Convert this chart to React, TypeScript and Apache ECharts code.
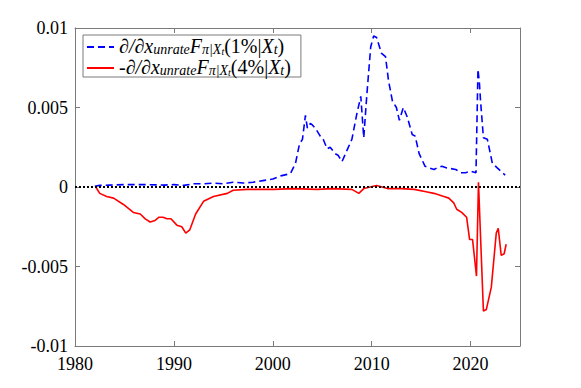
import React, { useEffect, useRef } from "react";
import * as echarts from "echarts";

const blueYears = [
  1982.0, 1982.5, 1983.5, 1985.0, 1987.0, 1989.0, 1990.0, 1991.0, 1992.0, 1993.0,
  1994.0, 1995.0, 1996.0, 1997.0, 1998.0, 1999.0, 2000.0, 2000.8, 2001.5, 2001.8,
  2002.3, 2002.7, 2003.0, 2003.3, 2003.5, 2003.8, 2004.0, 2004.3, 2004.8, 2005.1,
  2005.5, 2005.8, 2006.3, 2006.6, 2007.0, 2007.5, 2008.0, 2008.5, 2008.9, 2009.2,
  2009.5, 2009.9, 2010.2, 2010.5, 2011.0, 2011.4, 2011.7, 2012.1, 2012.5, 2012.8,
  2013.2, 2013.6, 2014.1, 2014.4, 2014.8, 2015.4, 2016.3, 2016.6, 2017.1, 2017.6,
  2018.5, 2019.0, 2019.5, 2020.0, 2020.55, 2020.75, 2020.9, 2021.0, 2021.3, 2021.7,
  2022.2, 2022.7, 2023.5,
];
const blueValues = [
  0.00005, 0.0001, 0.00012, 0.00015, 0.00015, 0.00012, 0.00015, 0.0001, 0.0002, 0.0002,
  0.00025, 0.0002, 0.0003, 0.00025, 0.0003, 0.0004, 0.0005, 0.0007, 0.0008, 0.00086,
  0.0015, 0.0027, 0.003, 0.0045, 0.0037, 0.004, 0.0039, 0.0037, 0.0032, 0.003,
  0.0024, 0.0025, 0.0021, 0.002, 0.0016, 0.0023, 0.003, 0.0046, 0.0057, 0.0031,
  0.0057, 0.0088, 0.0095, 0.0094, 0.0084, 0.0082, 0.0067, 0.0054, 0.005, 0.0042,
  0.005, 0.0044, 0.0033, 0.0032, 0.0021, 0.0013, 0.0011, 0.0012, 0.0013, 0.0012,
  0.0011, 0.0009, 0.0009, 0.001, 0.0009, 0.0074, 0.0065, 0.0055, 0.0031, 0.003,
  0.0015, 0.0012, 0.00075,
];

const redYears = [
  1982.1, 1982.5, 1983.2, 1983.9, 1984.9, 1985.9, 1986.6, 1987.1, 1987.6, 1988.1,
  1988.5, 1988.9, 1989.3, 1989.7, 1990.3, 1990.8, 1991.2, 1991.6, 1992.2, 1993.0,
  1994.0, 1995.4, 1996.0, 1997.4, 2000.1, 2002.1, 2004.5, 2006.0, 2008.0, 2008.7,
  2009.2, 2010.5, 2011.6, 2013.0, 2014.3, 2015.5, 2016.3, 2017.3, 2017.8, 2018.3,
  2018.6, 2019.1, 2019.6, 2019.9, 2020.2, 2020.6, 2020.8, 2021.3, 2021.6, 2022.1,
  2022.6, 2022.8, 2023.1, 2023.4, 2023.6,
];
const redValues = [
  0, -0.0004, -0.0006, -0.0007, -0.0011, -0.0016, -0.0017, -0.002, -0.0022, -0.0021,
  -0.0019, -0.0019, -0.002, -0.002, -0.0024, -0.0025, -0.0029, -0.0027, -0.0017, -0.0009,
  -0.0006, -0.0004, -0.0002, -0.00015, -0.00015, -0.0001, -0.00015, -0.0001, -0.00015, -0.0004,
  -0.0001, 0.0001, -0.0001, -0.0001, -0.00015, -0.0003, -0.0004, -0.0006, -0.0007, -0.001,
  -0.0014, -0.0016, -0.0019, -0.0033, -0.0033, -0.0056, 0.0003, -0.0078, -0.0077, -0.0063,
  -0.0029, -0.0026, -0.0043, -0.0042, -0.0036,
];

const xTicks = [1980, 1990, 2000, 2010, 2020];
const yTickLabels: Record<string, string> = {
  "-0.01": "-0.01",
  "-0.005": "-0.005",
  "0": "0",
  "0.005": "0.005",
  "0.01": "0.01",
};

const NAME1 = "∂/∂x unrate F π|Xt (1%|Xt)";
const NAME2 = "-∂/∂x unrate F π|Xt (4%|Xt)";

const SERIF = "Liberation Serif";
const AXIS_COLOR = "#7a7a7a";

export default function App() {
  const ref = useRef<HTMLDivElement>(null);
  useEffect(() => {
    document.body.style.margin = "0";
    if (!ref.current) return;
    const chart = echarts.init(ref.current, undefined, { renderer: "svg" });
    const sharedX = {
      type: "value" as const,
      min: 1980,
      max: 2025,
      interval: 10,
      splitLine: { show: false },
      axisLine: { show: true, onZero: false, lineStyle: { color: AXIS_COLOR, width: 1 } },
      axisTick: { show: true, inside: true, length: 5, lineStyle: { color: AXIS_COLOR } },
    };
    const sharedY = {
      type: "value" as const,
      min: -0.01,
      max: 0.01,
      interval: 0.005,
      splitLine: { show: false },
      axisLine: { show: true, onZero: false, lineStyle: { color: AXIS_COLOR, width: 1 } },
      axisTick: { show: true, inside: true, length: 5, lineStyle: { color: AXIS_COLOR } },
    };
    const baseTxt = { fontFamily: SERIF, color: "#000" };
    const main = { ...baseTxt, fontSize: 20, lineHeight: 18, verticalAlign: "bottom" };
    const sub = { ...baseTxt, fontStyle: "italic", fontSize: 14, lineHeight: 7, verticalAlign: "bottom" };
    const rich = {
      i: { ...main, fontStyle: "italic" },
      n: { ...main },
      s: { ...sub },
      ss: { ...baseTxt, fontStyle: "italic", fontSize: 10, lineHeight: 1, verticalAlign: "bottom" },
    };
    const legendText = (sign: string, pct: string) =>
      `${sign ? `{n|${sign}}` : ""}{i|∂/∂x}{s|unrate}{i|F}{s|π|X}{ss|t}{n|(${pct}|}{i|X}{s|t}{n|)}`;
    chart.setOption({
      animation: false,
      grid: { left: 75, right: 61, top: 28, bottom: 42 },
      legend: {
        left: 83,
        top: 35,
        orient: "vertical",
        itemWidth: 27,
        itemHeight: 14,
        itemGap: 1,
        padding: [1, 10, 0, 3],
        borderColor: AXIS_COLOR,
        borderWidth: 1,
        backgroundColor: "#fff",
        itemStyle: { opacity: 0 },
        data: [NAME1, NAME2],
        formatter: (name: string) =>
          name === NAME1 ? legendText("", "1%") : legendText("-", "4%"),
        textStyle: { ...baseTxt, fontSize: 20, lineHeight: 18, rich },
      },
      xAxis: [
        {
          ...sharedX,
          position: "bottom",
          axisLabel: {
            show: true,
            margin: 9,
            fontFamily: SERIF,
            fontSize: 18,
            color: "#000",
            formatter: (v: number) => (xTicks.includes(v) ? String(v) : ""),
          },
        },
        { ...sharedX, position: "top", axisLabel: { show: false } },
      ],
      yAxis: [
        {
          ...sharedY,
          position: "left",
          axisLabel: {
            show: true,
            margin: 7,
            fontFamily: SERIF,
            fontSize: 18,
            color: "#000",
            formatter: (v: number) => {
              const key = String(Math.round(v * 1000) / 1000);
              return yTickLabels[key] ?? "";
            },
          },
        },
        { ...sharedY, position: "right", axisLabel: { show: false } },
      ],
      series: [
        {
          name: NAME1,
          type: "line",
          symbol: "none",
          data: blueYears.map((y, i) => [y, blueValues[i]]),
          lineStyle: { color: "#0000ff", width: 1.6, type: [7, 4] },
          itemStyle: { color: "#0000ff" },
          markLine: {
            silent: true,
            symbol: "none",
            label: { show: false },
            lineStyle: { color: "#000", type: [2, 2], width: 2 },
            data: [{ yAxis: 0 }],
          },
          z: 3,
        },
        {
          name: NAME2,
          type: "line",
          symbol: "none",
          data: redYears.map((y, i) => [y, redValues[i]]),
          lineStyle: { color: "#ff0000", width: 1.6, type: "solid" },
          itemStyle: { color: "#ff0000" },
          z: 2,
        },
      ],
    });
    return () => chart.dispose();
  }, []);
  return <div ref={ref} style={{ width: 581, height: 388 }} />;
}
